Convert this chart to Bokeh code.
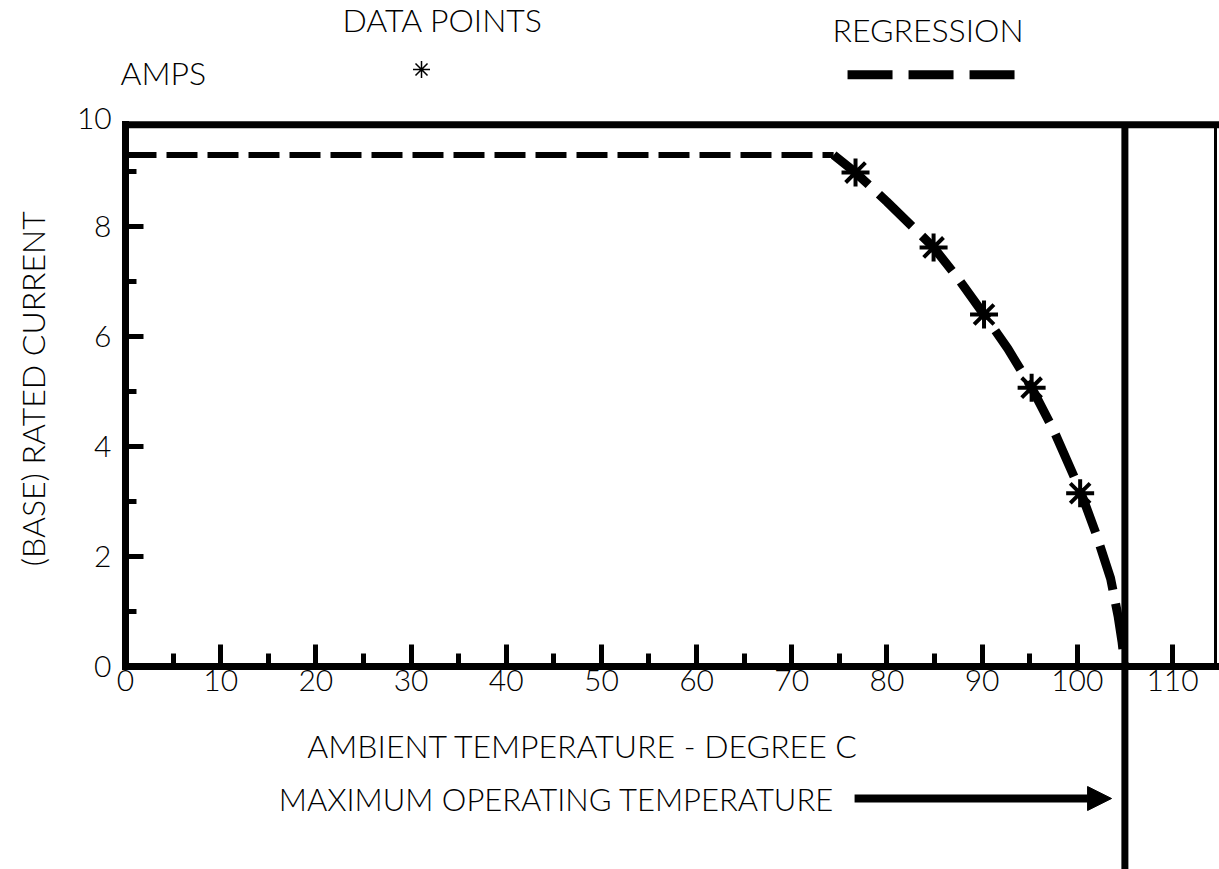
import math
from bokeh.plotting import figure
from bokeh.models import SingleIntervalTicker, Label, Arrow, NormalHead, Range1d
from bokeh.embed import file_html
from bokeh.resources import INLINE

# ---- data ----
point_temp = [76.7, 84.9, 90.2, 95.2, 100.3]
point_current = [8.98, 7.62, 6.4, 5.07, 3.15]

flat_temp = [0.0, 74.4]
flat_current = [9.3, 9.3]

curve_temp = [74.4, 76.7, 80.0, 84.9, 87.5, 90.2, 92.7, 95.2, 97.5, 100.3, 102.0, 103.5, 104.3, 104.7, 105.0]
curve_current = [9.3, 8.98, 8.45, 7.62, 7.05, 6.4, 5.78, 5.07, 4.3, 3.2, 2.4, 1.6, 0.9, 0.45, 0.0]

max_operating_temp = 105
x_tick_step = 10
y_tick_step = 2
top_tick_label = "10"

# ---- layout: frame covers the whole canvas, axes drawn at fixed locations ----
W, H = 1219, 869
X0_PX, PX_PER_X = 125.0, 9.518
Y0_PX, PX_PER_Y = 666.0, 55.0
x_lo, x_hi = -X0_PX / PX_PER_X, (W - X0_PX) / PX_PER_X
y_lo, y_hi = -(H - Y0_PX) / PX_PER_Y, Y0_PX / PX_PER_Y
top_border = 9.85
right_border = (1215 - X0_PX) / PX_PER_X

FONT = "'Lato Light', 'Liberation Sans'"
FS = "32px"
TICK_FS = "30px"

p = figure(width=W, height=H, title=None,
           x_range=Range1d(x_lo, x_hi), y_range=Range1d(y_lo, y_hi),
           output_backend="svg", toolbar_location=None, min_border=0)

p.background_fill_color = "white"
p.border_fill_color = "white"
p.outline_line_color = None
p.xgrid.grid_line_color = None
p.ygrid.grid_line_color = None

p.xaxis.ticker = SingleIntervalTicker(interval=x_tick_step, num_minor_ticks=2)
p.yaxis.ticker = SingleIntervalTicker(interval=y_tick_step, num_minor_ticks=2)
p.xaxis.fixed_location = 0
p.yaxis.fixed_location = 0
p.xaxis.bounds = (0, x_hi)
p.yaxis.bounds = (0, top_border)

for ax in (p.xaxis[0], p.yaxis[0]):
    ax.axis_line_width = 7
    ax.axis_line_color = "black"
    ax.axis_line_cap = "square"
    ax.major_tick_line_width = 5
    ax.minor_tick_line_width = 5
    ax.major_tick_line_color = "black"
    ax.minor_tick_line_color = "black"
    ax.major_tick_out = 0
    ax.minor_tick_out = 0
    ax.major_label_text_font = FONT
    ax.major_label_text_font_size = TICK_FS
    ax.major_label_text_color = "black"

p.xaxis.major_tick_in = 22
p.xaxis.minor_tick_in = 13
p.xaxis.major_label_standoff = 3
p.yaxis.major_tick_in = 18
p.yaxis.minor_tick_in = 11
p.yaxis.major_label_standoff = 14

# frame borders
p.line([0, x_hi], [top_border, top_border], line_color="black", line_width=7)
p.line([right_border, right_border], [0, top_border], line_color="black", line_width=3)

# maximum operating temperature line
p.line([max_operating_temp, max_operating_temp], [y_lo, top_border],
       line_color="black", line_width=7)

# regression line
p.line(flat_temp, flat_current, line_color="black", line_width=6, line_dash="31 10")
p.line(curve_temp, curve_current, line_color="black", line_width=9, line_dash="46 14")

# data points
p.scatter(point_temp, point_current, marker="asterisk", size=28,
          line_color="black", line_width=4)

# arrow to the maximum operating temperature
p.add_layout(Arrow(end=NormalHead(size=24, fill_color="black", line_color="black"),
                   x_start=76.6, y_start=-2.4, x_end=103.6, y_end=-2.4,
                   line_width=8, line_color="black"))

def lab(x, y, text, align="left", baseline="middle", angle=0, size=FS):
    p.add_layout(Label(x=x, y=y, text=text, text_font=FONT, text_font_size=size,
                       text_color="black", text_align=align, text_baseline=baseline,
                       angle=angle))

lab(-1.45, 9.96, top_tick_label, align="right", size=TICK_FS)
lab(19.1, -1.436, "AMBIENT TEMPERATURE - DEGREE C")
lab(16.1, -2.4, "MAXIMUM OPERATING TEMPERATURE", size="31px")
lab(-9.77, 5.05, "(BASE) RATED CURRENT", align="center", angle=math.pi / 2)
lab(22.8, 11.76, "DATA POINTS")
lab(-0.53, 10.8, "AMPS")
lab(74.28, 11.58, "REGRESSION")

# legend symbols
p.scatter([31.1], [10.855], marker="asterisk", size=17, line_color="black", line_width=1.5)
p.line([75.86, 93.51], [10.76, 10.76], line_color="black", line_width=9, line_dash="45 16")

open("out.html", "w").write(file_html(p, INLINE))
